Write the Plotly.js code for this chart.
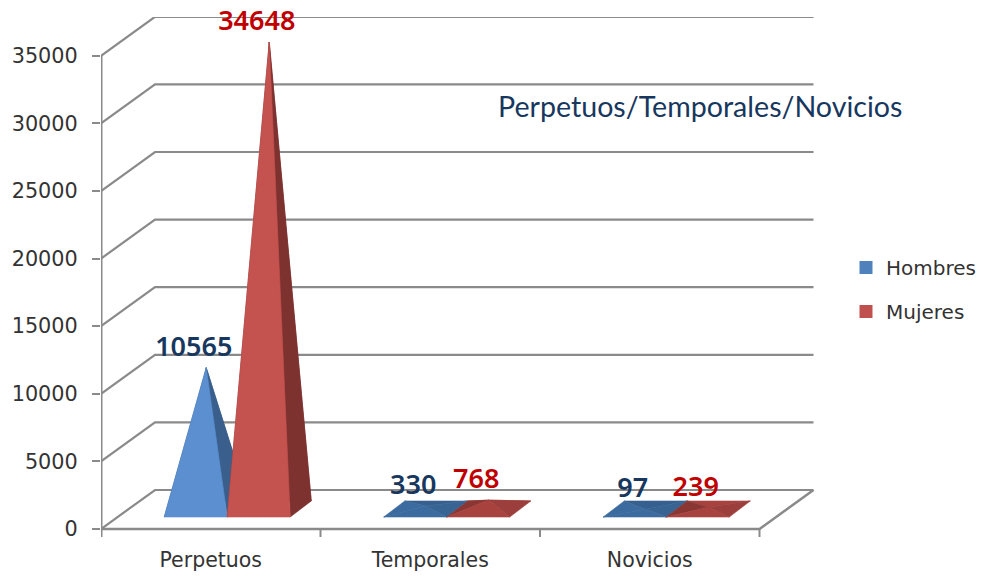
<!DOCTYPE html>
<html><head><meta charset="utf-8">
<script src="https://cdn.plot.ly/plotly-3.0.1.min.js"></script>
<style>html,body{margin:0;padding:0;background:#fff}#c{width:981px;height:576px}</style>
</head><body><div id="c"></div>
<script>
const categories = ["Perpetuos", "Temporales", "Novicios"];
const hombres = [10565, 330, 97];
const mujeres = [34648, 768, 239];
const yTicks = [0, 5000, 10000, 15000, 20000, 25000, 30000, 35000];
const chartTitle = "Perpetuos/Temporales/Novicios";

// plot scale
const pxX = 219.5, pxY = 67.6 / 5000;
const X = px => px / pxX, Y = px => px / pxY;
const GREY = "#8a8a8a";
const wallDX = X(54), wallDY = Y(39);
const floorDX = X(16), floorDY = Y(12);
const barW = X(63), barDX = X(21), barDY = Y(16);
const xEnd = categories.length - 0.5;
const traces = [];

function line(xs, ys, width) {
  traces.push({x: xs, y: ys, mode: "lines", line: {color: GREY, width: width, simplify: false},
    cliponaxis: false, showlegend: false, hoverinfo: "skip"});
}
yTicks.forEach(v => {
  line([-0.5, -0.5 + wallDX, xEnd + wallDX], [v, v + wallDY, v + wallDY], 2.2);
});
line([-0.5, xEnd, xEnd + wallDX], [0, 0, wallDY], 2.5);
line([-0.5, -0.5], [-Y(8), 35000], 3);
for (let i = 1; i <= categories.length; i++) line([i - 0.5, i - 0.5], [0, -Y(8)], 2);

function face(pts, color) {
  traces.push({x: pts.map(p => p[0]), y: pts.map(p => p[1]), mode: "lines", fill: "toself",
    fillcolor: color, line: {width: 0.6, color: color}, cliponaxis: false, showlegend: false, hoverinfo: "skip"});
}
function apexOf(i, off, v) {
  const left = i + off - X(46.5);
  return [left + barW / 2 + barDX / 2, floorDY + barDY / 2 - Y(1.5) + v];
}
function pyramid(i, off, v, c) {
  const left = i + off - X(46.5);
  const FL = [left, floorDY], FR = [left + barW, floorDY];
  const BL = [left + barDX, floorDY + barDY], BR = [left + barW + barDX, floorDY + barDY];
  const A = apexOf(i, off, v);
  face([BL, BR, A, BL], c.back);
  face([FL, BL, A, FL], c.left);
  face([FR, BR, A, FR], c.right);
  face([FL, FR, A, FL], c.front);
}
const blueTall = {front: "#5b8fd0", right: "#3a5f8c", left: "#3a5f8c", back: "#335a88"};
const blueFlat = {front: "#3c6b9f", right: "#386494", left: "#3c6b9f", back: "#36608f"};
const redTall = {front: "#c4524f", right: "#7d3230", left: "#7d3230", back: "#7d3230"};
const redFlat = {front: "#a8423f", right: "#9c3f3c", left: "#8a3734", back: "#a8423f"};
const redOff = X(63);

categories.forEach((c, i) => {
  pyramid(i, 0, hombres[i], i === 0 ? blueTall : blueFlat);
  pyramid(i, redOff, mujeres[i], i === 0 ? redTall : redFlat);
});

function labels(vals, off, color) {
  const a = vals.map((v, i) => apexOf(i, off, v));
  traces.push({x: a.map(p => p[0] - X(12.5)), y: a.map(p => p[1] + Y(18.5)), mode: "text",
    text: vals.map(String), textposition: "middle center",
    textfont: {family: "Noto Sans", size: 27, color: color, weight: 600},
    cliponaxis: false, showlegend: false, hoverinfo: "skip"});
}
labels(hombres, 0, "#17375e");
labels(mujeres, redOff, "#c00000");

[["Hombres", "#4f81bd"], ["Mujeres", "#c0504d"]].forEach(s => {
  traces.push({x: [null], y: [null], mode: "markers", name: s[0], legendgroup: s[0],
    marker: {symbol: "square", size: 13, color: s[1]}, hoverinfo: "skip"});
});

const layout = {
  width: 981, height: 576,
  margin: {l: 101, r: 166, t: 17, b: 38, pad: 0},
  paper_bgcolor: "#fff", plot_bgcolor: "#fff",
  hovermode: false,
  title: {text: chartTitle, x: 498 / 981, y: 1 - 107 / 576, xanchor: "left", yanchor: "middle",
    xref: "container", yref: "container", pad: {l: 0, r: 0, t: 0, b: 0},
    font: {family: "Lato", size: 28.6, color: "#17375e"}},
  xaxis: {range: [-0.5, -0.5 + 714 / pxX], tickvals: categories.map((c, i) => i), ticktext: categories,
    showgrid: false, zeroline: false, showline: false, ticks: "", ticklabelstandoff: 7,
    tickfont: {family: "DejaVu Sans", size: 20.5, color: "#333"}, fixedrange: true},
  yaxis: {range: [-Y(9), 512 / pxY], tickvals: yTicks, ticktext: yTicks.map(String),
    showgrid: false, zeroline: false, showline: false, ticks: "outside", ticklen: 8, tickwidth: 2, tickcolor: GREY,
    ticklabelstandoff: 10,
    tickfont: {family: "DejaVu Sans", size: 20.8, color: "#333"}, fixedrange: true},
  legend: {xref: "container", yref: "container", x: 846 / 981, y: 1 - 248 / 576, xanchor: "left", yanchor: "top",
    font: {family: "DejaVu Sans", size: 20, color: "#333"}, tracegroupgap: 15, bgcolor: "rgba(0,0,0,0)"},
  showlegend: true
};
Plotly.newPlot("c", traces, layout, {displayModeBar: false, staticPlot: true});
</script>
</body></html>
